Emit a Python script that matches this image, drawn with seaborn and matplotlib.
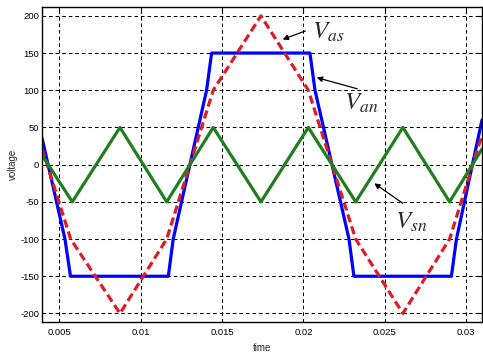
import matplotlib
matplotlib.use("Agg")
import matplotlib.pyplot as plt
import seaborn as sns

# ---- data ----
van_t = [0.00394, 0.00535, 0.00569, 0.01170, 0.01200, 0.01405, 0.01436,
         0.02040, 0.02071, 0.02280, 0.02310, 0.02909, 0.02940, 0.03097]
van_v = [36, -100, -150, -150, -100, 100, 150,
         150, 100, -100, -150, -150, -100, 60]

vas_t = [0.00394, 0.00570, 0.00873, 0.01160, 0.01446, 0.01739, 0.02030,
         0.02321, 0.02611, 0.02898, 0.03097]
vas_v = [22, -100, -200, -100, 100, 200, 100, -100, -200, -100, 40]

vsn_t = [0.00394, 0.00580, 0.00873, 0.01160, 0.01446, 0.01739, 0.02030,
         0.02321, 0.02611, 0.02898, 0.03097]
vsn_v = [13, -50, 50, -50, 50, -50, 50, -50, 50, -50, 21]

x_ticks = [0.005, 0.01, 0.015, 0.02, 0.025, 0.03]
x_tick_labels = ["0.005", "0.01", "0.015", "0.02", "0.025", "0.03"]
y_ticks = [-200, -150, -100, -50, 0, 50, 100, 150, 200]
y_tick_labels = ["-200", "-150", "-100", "-50", "0", "50", "100", "150", "200"]

x_label = "time"
y_label = "voltage"

# annotation labels: (text, text position, arrow tail, arrow head)
ann_labels = [r"$V_{as}$", r"$V_{an}$", r"$V_{sn}$"]
ann_text_pos = [(0.02050, 178), (0.02252, 83), (0.02560, -77)]
ann_tail = [(0.02028, 181), (0.02347, 101), (0.02624, -54)]
ann_head = [(0.01856, 167), (0.02065, 118), (0.02421, -23)]

# ---- style ----
sns.set_style("white")
plt.rcParams["font.family"] = ["Liberation Sans", "DejaVu Sans"]
plt.rcParams["mathtext.fontset"] = "stix"

fig = plt.figure(figsize=(4.83, 3.53), dpi=100)
ax = fig.add_axes([42 / 483, 1 - 322 / 353, 440 / 483, (322 - 7.3) / 353])

sns.lineplot(x=van_t, y=van_v, ax=ax, color="#0000ff", lw=2.3,
             sort=False, estimator=None)
sns.lineplot(x=vas_t, y=vas_v, ax=ax, color="#dc1c26", lw=2.3,
             sort=False, estimator=None, linestyle=(0, (2.6, 1.3)))
sns.lineplot(x=vsn_t, y=vsn_v, ax=ax, color="#1f7f1f", lw=2.3,
             sort=False, estimator=None)

ax.set_xlim(0.00394, 0.03097)
ax.set_ylim(-211.5, 211.5)
ax.set_xticks(x_ticks)
ax.set_xticklabels(x_tick_labels)
ax.set_yticks(y_ticks)
ax.set_yticklabels(y_tick_labels)

ax.set_axisbelow(True)
ax.grid(True, color="black", linewidth=0.75, linestyle=(0, (3.5, 2.8)))
for s in ax.spines.values():
    s.set_color("black")
    s.set_linewidth(1.0)

ax.tick_params(direction="in", length=4, width=0.8, top=True, right=True,
               labelsize=6.8, colors="black")
ax.tick_params(axis="y", pad=2)
ax.tick_params(axis="x", pad=4)

ax.set_xlabel(x_label, fontsize=7)
ax.set_ylabel(y_label, fontsize=7)
ax.xaxis.set_label_coords(0.5, -0.067)
ax.yaxis.set_label_coords(-0.054, 0.5)

for lab, tp, tl, hd in zip(ann_labels, ann_text_pos, ann_tail, ann_head):
    ax.text(tp[0], tp[1], lab, fontsize=18, ha="left", va="center",
            color="#2a2a2a")
    ax.annotate("", xy=hd, xytext=tl,
                arrowprops=dict(arrowstyle="-|>", color="black", lw=0.9,
                                mutation_scale=8))

fig.savefig("out.png", dpi=100, facecolor="white")
